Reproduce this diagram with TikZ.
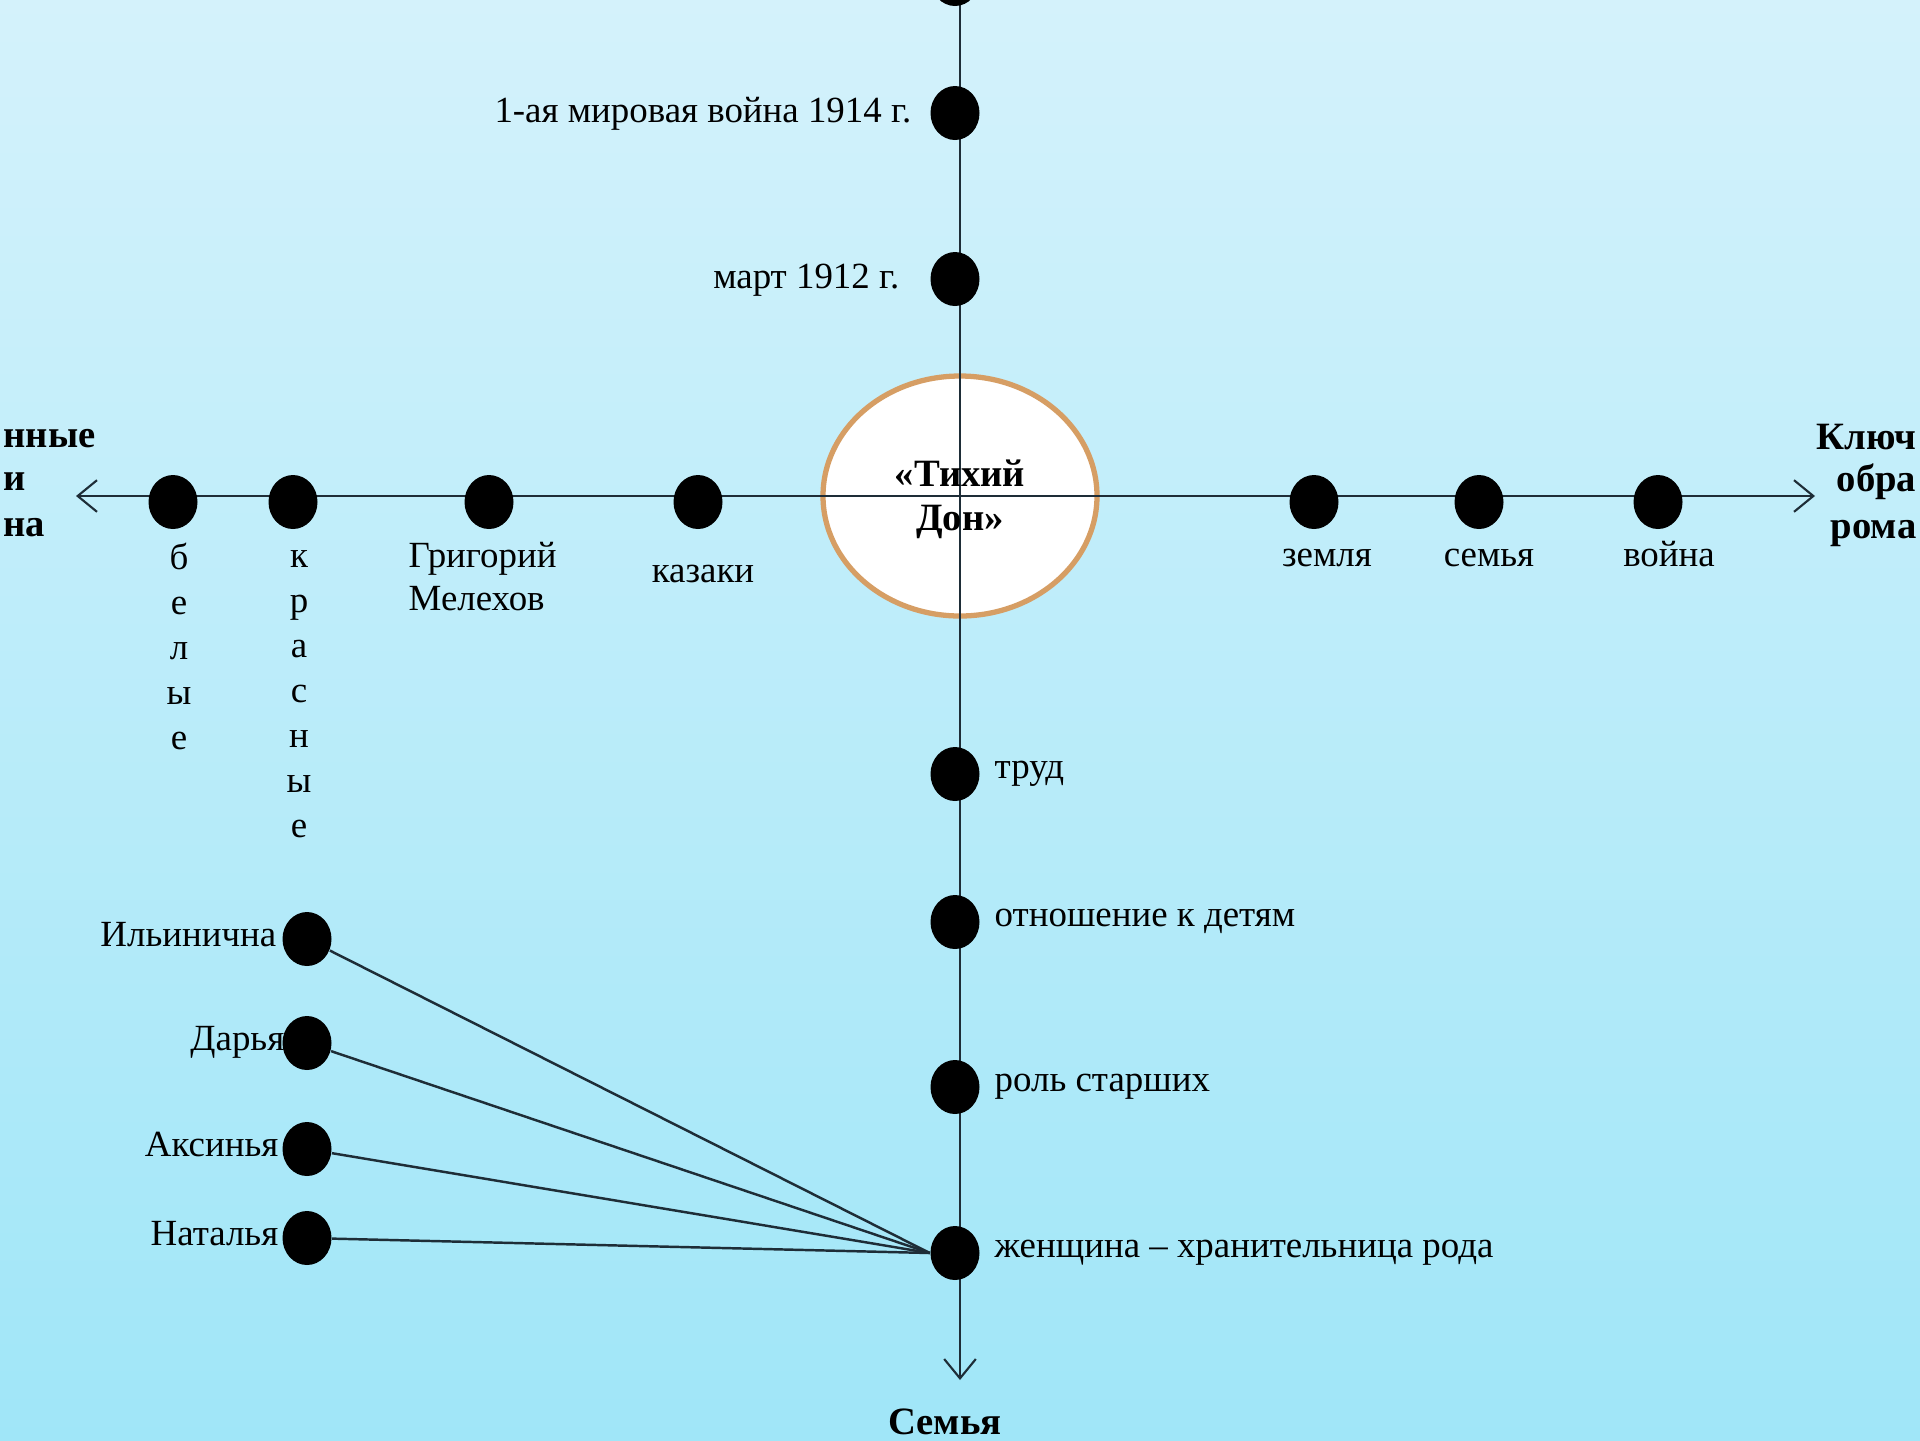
\documentclass[tikz,border=0pt]{standalone}
\usepackage{fontspec}
\setmainfont{Liberation Serif}
\usetikzlibrary{arrows.meta,shapes.geometric,positioning}

\definecolor{axiscol}{RGB}{30,45,55}
\definecolor{ringcol}{RGB}{214,158,100}
\definecolor{bgtop}{RGB}{212,242,251}
\definecolor{bgbot}{RGB}{160,230,248}

\tikzset{
  dot/.style={ellipse, fill=black, inner sep=0pt, minimum width=0.49cm, minimum height=0.54cm},
  axis/.style={draw=axiscol, line width=0.6pt},
  link/.style={draw=axiscol, line width=0.7pt},
  lbl/.style={font=\fontsize{10.5}{12.2}\selectfont, inner sep=0pt},
  ttl/.style={font=\fontsize{11}{12.5}\selectfont\bfseries, inner sep=0pt},
  vert/.style={inner sep=0pt, align=center, font=\fontsize{10.5}{12.8}\selectfont},
  barb/.tip={Straight Barb[length=5.5pt,width=9pt]}
}

\begin{document}
\begin{tikzpicture}
        \useasboundingbox (0,0) rectangle (19.2,-14.4);
        \fill[top color=bgtop, bottom color=bgbot] (0,0) rectangle (19.2,-14.4);

        % centre
        \draw (9.6,-4.96) node[ellipse, draw=ringcol, line width=1.5pt, fill=white, minimum width=2.74cm, minimum height=2.40cm] (don) {};

        % axes
        \coordinate (lt) at (0.76,-4.96);
        \coordinate (rt) at (18.15,-4.96);
        \coordinate (up) at (9.6,0.3);
        \coordinate (dn) at (9.6,-13.80);
        \draw [axis, barb-barb] (lt) to (rt);
        \draw [axis, -barb] (up) to (dn);

        \draw (9.55, 0.21) node[dot] (top) {};
        \draw (9.55,-1.13) node[dot] (ww1) {};
        \draw (9.55,-2.79) node[dot] (m12) {};
        \draw (1.73,-5.02) node[dot] (wht) {};
        \draw (2.93,-5.02) node[dot] (red) {};
        \draw (4.89,-5.02) node[dot] (grig) {};
        \draw (6.98,-5.02) node[dot] (kaz) {};
        \draw (13.14,-5.02) node[dot] (zem) {};
        \draw (14.79,-5.02) node[dot] (sem) {};
        \draw (16.58,-5.02) node[dot] (voy) {};
        \draw (9.55,-7.74) node[dot] (trud) {};
        \draw (9.55,-9.22) node[dot] (deti) {};
        \draw (9.55,-10.87) node[dot] (star) {};
        \draw (9.55,-12.53) node[dot] (zhen) {};
        \draw (3.07,-9.39) node[dot] (ilj) {};
        \draw (3.07,-10.43) node[dot] (dar) {};
        \draw (3.07,-11.49) node[dot] (aks) {};
        \draw (3.07,-12.38) node[dot] (nat) {};

        \foreach \w in {ilj,dar,aks,nat}
          \draw [link] (\w) to (zhen.west);

        % texts
        \node [ttl, align=center] (dontxt) at (9.6,-4.99) {«Тихий\\Дон»};
        \node [lbl, anchor=base east] (t14) at (9.12,-1.22) {1-ая мировая война 1914 г.};
        \node [lbl, anchor=base east] (t12) at (9.00,-2.88) {март 1912 г.};
        \node [vert, anchor=north] (twht) at (1.79,-5.42) {б\\е\\л\\ы\\е};
        \node [vert, anchor=north] (tred) at (2.99,-5.50) {к\\р\\а\\с\\н\\ы\\е};
        \node [lbl, align=left, anchor=north west] (tgrig) at (4.08,-5.42) {Григорий\\Мелехов};
        \node [lbl, anchor=base] (tkaz) at (7.03,-5.82) {казаки};
        \node [lbl, anchor=base] (tzem) at (13.27,-5.66) {земля};
        \node [lbl, anchor=base] (tsem) at (14.89,-5.66) {семья};
        \node [lbl, anchor=base] (tvoy) at (16.69,-5.66) {война};
        \node [lbl, anchor=base west] (ttrud) at (9.94,-7.78) {труд};
        \node [lbl, anchor=base west] (tdeti) at (9.94,-9.26) {отношение к детям};
        \node [lbl, anchor=base west] (tstar) at (9.94,-10.91) {роль старших};
        \node [lbl, anchor=base west] (tzhen) at (9.94,-12.57) {женщина – хранительница рода};
        \node [lbl, anchor=base east] (tilj) at (2.77,-9.46) {Ильинична};
        \node [lbl, anchor=base east] (tdar) at (2.85,-10.50) {Дарья};
        \node [lbl, anchor=base east] (taks) at (2.79,-11.56) {Аксинья};
        \node [lbl, anchor=base east] (tnat) at (2.79,-12.45) {Наталья};

        % edge titles
        \node [ttl, anchor=base west] (lt1) at (0.03,-4.47) {нные};
        \node [ttl, anchor=base west] (lt2) at (0.03,-4.90) {и};
        \node [ttl, anchor=base west] (lt3) at (0.03,-5.36) {на};
        \node [ttl, anchor=base east] (rt1) at (19.17,-4.49) {Ключ};
        \node [ttl, anchor=base east] (rt2) at (19.17,-4.91) {обра};
        \node [ttl, anchor=base east] (rt3) at (19.17,-5.38) {рома};
        \node [ttl, anchor=base] (tfam) at (9.45,-14.34) {Семья};

\end{tikzpicture}
\end{document}
